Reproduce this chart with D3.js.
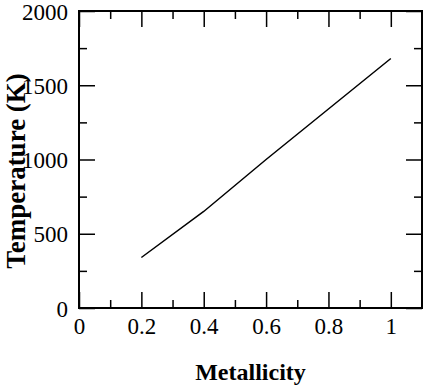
<!DOCTYPE html>
<html><head><meta charset="utf-8">
<script src="https://cdn.jsdelivr.net/npm/d3@7"></script>
<style>body{margin:0;background:#fff}svg{display:block}</style>
</head><body>
<script>
const metallicity = [0.2, 0.4, 0.6, 0.8, 1.0];
const temperature = [340, 650, 1000, 1340, 1680];
const xMajorTicks = [0, 0.2, 0.4, 0.6, 0.8, 1];
const xMinorTicks = [0.1, 0.3, 0.5, 0.7, 0.9];
const yMajorTicks = [0, 500, 1000, 1500, 2000];
const yMinorTicks = [250, 750, 1250, 1750];
const xTitle = "Metallicity";
const yTitle = "Temperature (K)";

const W = 424, H = 388;
const m = {left: 79, right: 2, top: 11, bottom: 80};
const svg = d3.select("body").append("svg").attr("width", W).attr("height", H);
const x = d3.scaleLinear().domain([0, 1.1]).range([m.left, W - m.right]);
const y = d3.scaleLinear().domain([0, 2000]).range([H - m.bottom, m.top]);
const font = "'Liberation Serif','Times New Roman',serif";
const MAJ = 16, MIN = 8;

function styleAxis(g) {
  g.attr("font-family", null).attr("font-size", null);
  g.select(".domain").remove();
  g.selectAll(".tick line").attr("stroke", "#000").attr("stroke-width", 1.5);
}
// bottom
svg.append("g").attr("transform", `translate(0,${y(0)})`)
  .call(d3.axisBottom(x).tickValues(xMajorTicks).tickSizeInner(-MAJ).tickSizeOuter(0)
    .tickFormat(d => d === 1 ? "1" : d === 0 ? "0" : d3.format(".1f")(d)))
  .call(styleAxis)
  .call(g => g.selectAll("text").attr("y", 26).attr("dy", null)
    .style("font-family", font).style("font-size", "23px").attr("fill", "#000"));
svg.append("g").attr("transform", `translate(0,${y(0)})`)
  .call(d3.axisBottom(x).tickValues(xMinorTicks).tickSizeInner(-MIN).tickSizeOuter(0).tickFormat(""))
  .call(styleAxis);
// top
svg.append("g").attr("transform", `translate(0,${y(2000)})`)
  .call(d3.axisTop(x).tickValues(xMajorTicks).tickSizeInner(-MAJ).tickSizeOuter(0).tickFormat(""))
  .call(styleAxis);
svg.append("g").attr("transform", `translate(0,${y(2000)})`)
  .call(d3.axisTop(x).tickValues(xMinorTicks).tickSizeInner(-MIN).tickSizeOuter(0).tickFormat(""))
  .call(styleAxis);
// left
svg.append("g").attr("transform", `translate(${x(0)},0)`)
  .call(d3.axisLeft(y).tickValues(yMajorTicks).tickSizeInner(-MAJ).tickSizeOuter(0).tickFormat(d3.format("d")))
  .call(styleAxis)
  .call(g => g.selectAll("text").attr("x", -11).attr("dy", null).attr("y", 8)
    .style("font-family", font).style("font-size", "23px").attr("fill", "#000"));
svg.append("g").attr("transform", `translate(${x(0)},0)`)
  .call(d3.axisLeft(y).tickValues(yMinorTicks).tickSizeInner(-MIN).tickSizeOuter(0).tickFormat(""))
  .call(styleAxis);
// right
svg.append("g").attr("transform", `translate(${x(1.1)},0)`)
  .call(d3.axisRight(y).tickValues(yMajorTicks).tickSizeInner(-MAJ).tickSizeOuter(0).tickFormat(""))
  .call(styleAxis);
svg.append("g").attr("transform", `translate(${x(1.1)},0)`)
  .call(d3.axisRight(y).tickValues(yMinorTicks).tickSizeInner(-MIN).tickSizeOuter(0).tickFormat(""))
  .call(styleAxis);

// frame
svg.append("rect").attr("x", x(0)).attr("y", y(2000))
  .attr("width", x(1.1) - x(0)).attr("height", y(0) - y(2000))
  .attr("fill", "none").attr("stroke", "#000").attr("stroke-width", 2);

// line
const data = metallicity.map((v, i) => [v, temperature[i]]);
svg.append("path").datum(data)
  .attr("d", d3.line().x(d => x(d[0])).y(d => y(d[1])))
  .attr("fill", "none").attr("stroke", "#000").attr("stroke-width", 1.5);

// titles
svg.append("text").attr("x", (x(0) + x(1.1)) / 2).attr("y", 380)
  .attr("text-anchor", "middle").style("font-family", font).attr("font-weight", "bold")
  .style("font-size", "24px").text(xTitle);
svg.append("text").attr("transform", "translate(25,171) rotate(-90)")
  .attr("text-anchor", "middle").style("font-family", font).attr("font-weight", "bold")
  .style("font-size", "27px").text(yTitle);
</script>
</body></html>
